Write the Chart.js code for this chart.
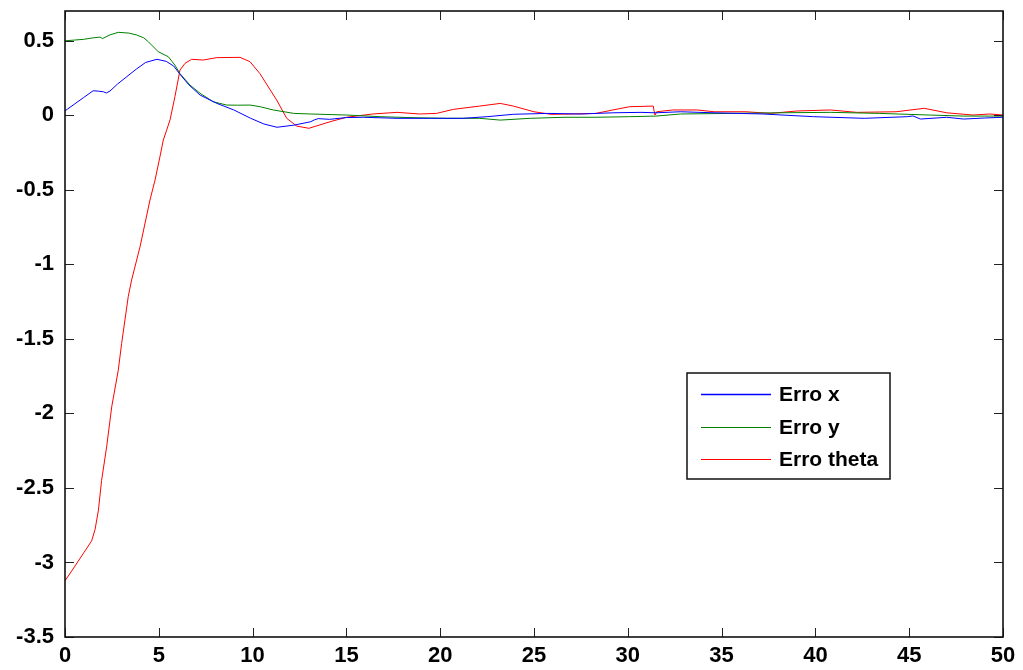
<!DOCTYPE html>
<html>
<head>
<meta charset="utf-8">
<script src="https://cdn.jsdelivr.net/npm/chart.js@4"></script>
<style>
    body { margin: 0; background: #fff; }
    canvas { display: block; }
</style>
</head>
<body>
<canvas id="erroChart" width="1023" height="670"></canvas>
<script>
// tick positions
var xTicks = [0, 5, 10, 15, 20, 25, 30, 35, 40, 45, 50];
var yTicks = [-3.5, -3, -2.5, -2, -1.5, -1, -0.5, 0, 0.5];

var seriesNames = ['Erro x', 'Erro y', 'Erro theta'];
var seriesColors = ['#0000ff', '#008000', '#ff0000'];

// Erro x
var tX = [0, 0.5, 1.0, 1.5, 1.8, 2.05, 2.2, 2.4, 2.8, 3.3, 3.8, 4.3, 4.9, 5.4, 5.8, 6.1, 6.6, 7.2, 8.1, 9.0, 9.9, 10.6, 11.3, 12.2, 13.1, 13.3, 13.5, 14.1, 15.0, 15.9, 17.7, 19.5, 21.2, 22.5, 23.9, 25.7, 27.5, 29.2, 30.7, 31.5, 32.8, 34.6, 37.2, 39.9, 42.6, 44.9, 45.2, 45.6, 47.0, 47.9, 49.0, 50];
var erroX = [0.03, 0.075, 0.12, 0.165, 0.162, 0.158, 0.15, 0.163, 0.21, 0.26, 0.31, 0.355, 0.376, 0.362, 0.33, 0.28, 0.205, 0.136, 0.08, 0.036, -0.02, -0.058, -0.08, -0.066, -0.043, -0.03, -0.022, -0.027, -0.015, -0.013, -0.02, -0.02, -0.02, -0.009, 0.007, 0.013, 0.009, 0.017, 0.02, 0.017, 0.024, 0.017, 0.009, -0.009, -0.02, -0.009, -0.004, -0.025, -0.013, -0.025, -0.018, -0.013];

// Erro y
var tY = [0, 0.5, 1.0, 1.5, 1.87, 2.0, 2.4, 2.84, 3.4, 3.82, 4.2, 4.44, 4.97, 5.51, 5.86, 6.13, 6.66, 7.2, 7.9, 8.62, 9.2, 9.86, 10.4, 11.1, 12.2, 13.1, 15.0, 16.8, 18.6, 20.4, 22.1, 23.2, 24.8, 26.6, 28.3, 30.1, 31.5, 32.8, 35.5, 38.1, 40.8, 43.4, 46.1, 47.9, 50];
var erroY = [0.50, 0.505, 0.51, 0.52, 0.525, 0.515, 0.54, 0.557, 0.552, 0.539, 0.52, 0.494, 0.427, 0.393, 0.337, 0.28, 0.203, 0.148, 0.091, 0.069, 0.068, 0.069, 0.058, 0.036, 0.013, 0.009, 0.002, -0.009, -0.016, -0.02, -0.02, -0.032, -0.02, -0.013, -0.013, -0.009, -0.005, 0.009, 0.013, 0.017, 0.02, 0.013, 0.002, -0.005, -0.005];

// Erro theta
var tTheta = [0, 0.5, 1.0, 1.42, 1.6, 1.78, 1.95, 2.22, 2.49, 2.84, 3.02, 3.37, 3.55, 4.0, 4.53, 4.8, 5.06, 5.24, 5.42, 5.6, 5.86, 6.13, 6.4, 6.75, 7.37, 8.08, 9.33, 9.86, 10.39, 11.28, 11.82, 12.35, 13.0, 14.13, 15.0, 16.4, 17.7, 18.9, 19.8, 20.7, 22.1, 23.2, 23.9, 25.0, 25.9, 27.1, 28.3, 29.2, 30.1, 31.36, 31.4, 31.45, 31.54, 32.4, 33.7, 34.6, 36.3, 37.6, 39.0, 40.8, 42.2, 44.3, 45.8, 47.0, 48.4, 49.3, 50];
var erroTheta = [-3.123, -3.03, -2.935, -2.855, -2.78, -2.65, -2.45, -2.224, -1.956, -1.71, -1.53, -1.217, -1.105, -0.882, -0.568, -0.434, -0.278, -0.166, -0.099, -0.03, 0.125, 0.304, 0.349, 0.376, 0.371, 0.387, 0.389, 0.36, 0.28, 0.103, -0.02, -0.072, -0.087, -0.043, -0.013, 0.009, 0.02, 0.009, 0.013, 0.04, 0.062, 0.08, 0.062, 0.024, 0.007, 0.009, 0.013, 0.036, 0.058, 0.062, 0.03, 0.002, 0.024, 0.036, 0.036, 0.024, 0.024, 0.013, 0.029, 0.036, 0.02, 0.024, 0.047, 0.017, 0.002, 0.009, 0.002];

var fontFamily = '"Liberation Sans", Arial, Helvetica, sans-serif';

function toPoints(ts, vs) {
    return ts.map(function(t, i) { return { x: t, y: vs[i] }; });
}

// box around the axes with inward tick marks on all four sides
var boxTicks = {
    id: 'boxTicks',
    afterDraw: function(chart) {
        var ctx = chart.ctx;
        var a = chart.chartArea;
        var xs = chart.scales.x;
        var ys = chart.scales.y;
        var len = 9;
        ctx.save();
        ctx.strokeStyle = '#222';
        ctx.lineWidth = 1;
        ctx.beginPath();
        xs.ticks.forEach(function(t) {
            var px = Math.round(xs.getPixelForValue(t.value)) + 0.5;
            ctx.moveTo(px, a.bottom); ctx.lineTo(px, a.bottom - len);
            ctx.moveTo(px, a.top); ctx.lineTo(px, a.top + len);
        });
        ys.ticks.forEach(function(t) {
            var py = Math.round(ys.getPixelForValue(t.value)) + 0.5;
            ctx.moveTo(a.left, py); ctx.lineTo(a.left + len, py);
            ctx.moveTo(a.right, py); ctx.lineTo(a.right - len, py);
        });
        ctx.stroke();
        ctx.lineWidth = 1.6;
        ctx.strokeStyle = '#111';
        ctx.strokeRect(a.left, a.top, a.right - a.left, a.bottom - a.top);
        ctx.restore();
    }
};

// legend box in the lower right of the plot
var boxLegend = {
    id: 'boxLegend',
    afterDraw: function(chart) {
        var ctx = chart.ctx;
        var bx = 687, by = 373, bw = 203, bh = 106;
        ctx.save();
        ctx.fillStyle = '#fff';
        ctx.fillRect(bx, by, bw, bh);
        ctx.strokeStyle = '#111';
        ctx.lineWidth = 1.5;
        ctx.strokeRect(bx, by, bw, bh);
        ctx.font = 'bold 21px ' + fontFamily;
        ctx.textBaseline = 'middle';
        for (var i = 0; i < seriesNames.length; i++) {
            var yy = Math.round(by + 21 + i * 32.5) + 0.5;
            ctx.beginPath();
            ctx.strokeStyle = seriesColors[i];
            ctx.lineWidth = i === 0 ? 1.5 : 1;
            ctx.moveTo(bx + 14, yy);
            ctx.lineTo(bx + 84, yy);
            ctx.stroke();
            ctx.fillStyle = '#000';
            ctx.fillText(seriesNames[i], bx + 92, yy + 1);
        }
        ctx.restore();
    }
};

function noEdgePadding(s) {
    s.paddingTop = 0;
    s.paddingBottom = 0;
    s.paddingLeft = 0;
    s.paddingRight = 0;
}

var ctx = document.getElementById('erroChart').getContext('2d');
var erroChart = new Chart(ctx, {
    type: 'line',
    data: {
        datasets: [{
            label: seriesNames[0],
            data: toPoints(tX, erroX),
            borderColor: seriesColors[0],
            borderWidth: 1,
            pointRadius: 0,
            tension: 0
        }, {
            label: seriesNames[1],
            data: toPoints(tY, erroY),
            borderColor: seriesColors[1],
            borderWidth: 1,
            pointRadius: 0,
            tension: 0
        }, {
            label: seriesNames[2],
            data: toPoints(tTheta, erroTheta),
            borderColor: seriesColors[2],
            borderWidth: 1,
            pointRadius: 0,
            tension: 0
        }]
    },
    options: {
        responsive: false,
        animation: false,
        layout: { padding: { top: 11, right: 20, left: 0, bottom: 0 } },
        plugins: {
            legend: { display: false },
            tooltip: { enabled: false }
        },
        scales: {
            x: {
                type: 'linear',
                min: 0,
                max: 50,
                afterBuildTicks: function(s) { s.ticks = xTicks.map(function(v) { return { value: v }; }); },
                afterFit: function(s) { s.height = 33; noEdgePadding(s); },
                grid: { display: false, drawTicks: false },
                border: { display: false },
                ticks: {
                    color: '#000',
                    padding: 6,
                    maxRotation: 0,
                    font: { family: fontFamily, size: 22, weight: 'bold' },
                    callback: function(v) { return String(v); }
                }
            },
            y: {
                type: 'linear',
                min: -3.5,
                max: 0.7,
                afterBuildTicks: function(s) { s.ticks = yTicks.map(function(v) { return { value: v }; }); },
                afterFit: function(s) { s.width = 65; noEdgePadding(s); },
                grid: { display: false, drawTicks: false },
                border: { display: false },
                ticks: {
                    color: '#000',
                    padding: 11,
                    font: { family: fontFamily, size: 22, weight: 'bold' },
                    callback: function(v) { return String(v); }
                }
            }
        }
    },
    plugins: [boxTicks, boxLegend]
});
</script>
</body>
</html>
